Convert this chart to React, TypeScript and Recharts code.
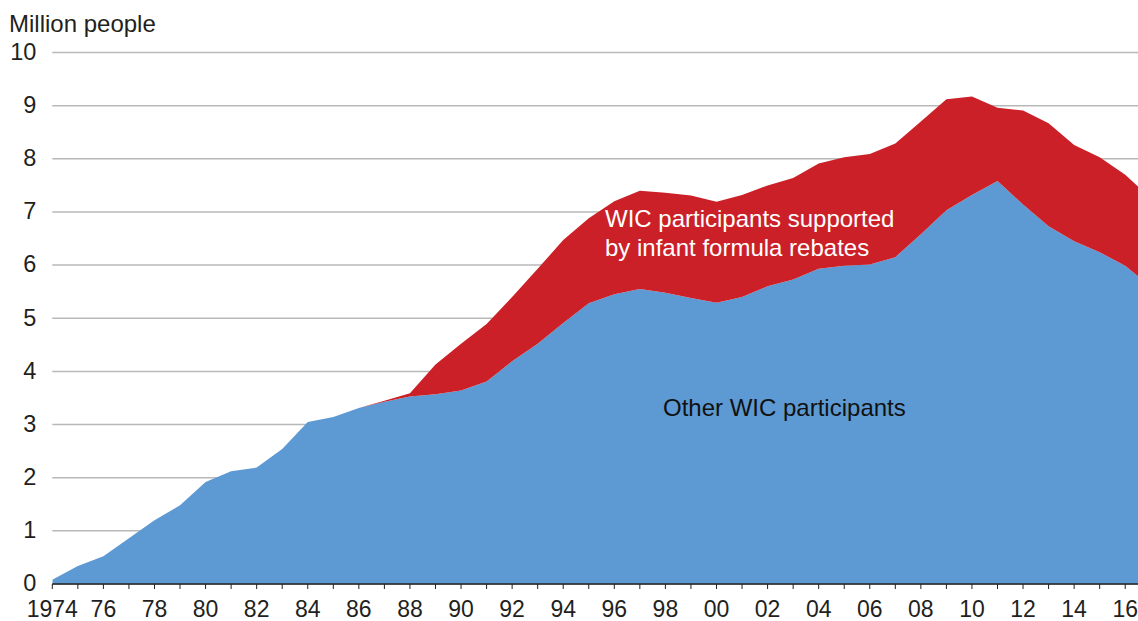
import { AreaChart, Area, XAxis, YAxis, CartesianGrid } from "recharts";

// fiscal years, 1974-2017 (the last point runs past the right edge)
const years = [
  1974, 1975, 1976, 1977, 1978, 1979, 1980, 1981, 1982, 1983, 1984,
  1985, 1986, 1987, 1988, 1989, 1990, 1991, 1992, 1993, 1994, 1995,
  1996, 1997, 1998, 1999, 2000, 2001, 2002, 2003, 2004, 2005, 2006,
  2007, 2008, 2009, 2010, 2011, 2012, 2013, 2014, 2015, 2016, 2017,
];

// million people
const otherWic = [
  0.08, 0.34, 0.52, 0.86, 1.2, 1.48, 1.92, 2.12, 2.19, 2.54, 3.05,
  3.14, 3.31, 3.43, 3.53, 3.57, 3.64, 3.81, 4.19, 4.52, 4.91, 5.28,
  5.45, 5.55, 5.48, 5.38, 5.29, 5.4, 5.6, 5.73, 5.93, 5.99, 6.01,
  6.15, 6.58, 7.03, 7.32, 7.58, 7.14, 6.73, 6.45, 6.24, 5.99, 5.59,
];

const rebateWic = [
  0, 0, 0, 0, 0, 0, 0, 0, 0, 0, 0,
  0, 0, 0.02, 0.06, 0.56, 0.88, 1.08, 1.21, 1.41, 1.56, 1.6,
  1.75, 1.85, 1.88, 1.93, 1.9, 1.92, 1.9, 1.91, 1.98, 2.04, 2.08,
  2.14, 2.12, 2.09, 1.85, 1.38, 1.77, 1.94, 1.81, 1.79, 1.71, 1.67,
];

const xTicks = years.filter((y) => y <= 2016);
const yTicks = [0, 1, 2, 3, 4, 5, 6, 7, 8, 9, 10];

const data = years.map((year, i) => ({
  year,
  other: otherWic[i],
  rebate: rebateWic[i],
}));

const fontFamily = "'Liberation Sans', Arial, Helvetica, sans-serif";
const textColor = "#231f20";

const yearLabel = (v: number) => {
  if (v % 2 !== 0) return "";
  if (v === 1974) return "1974";
  return String(v % 100).padStart(2, "0");
};

// only even years get a label; odd years keep just the tick mark
const YearTick = (props: any) => {
  const { x, y, payload } = props;
  const label = yearLabel(payload.value);
  if (!label) return <g />;
  return (
    <text
      x={x}
      y={y + 27.5}
      textAnchor="middle"
      fill={textColor}
      fontSize={23}
      fontFamily={fontFamily}
    >
      {label}
    </text>
  );
};

function App() {
  return (
    <div
      style={{
        position: "absolute",
        left: 0,
        top: 0,
        width: 1138,
        height: 621,
        fontFamily,
        background: "#fff",
      }}
    >
      <AreaChart
        width={1138}
        height={621}
        data={data}
        margin={{ top: 52.5, right: 0, bottom: 7, left: 0 }}
      >
        <CartesianGrid
          horizontal
          vertical={false}
          stroke="#b8b8b8"
          strokeWidth={1.5}
        />
        <XAxis
          dataKey="year"
          type="number"
          domain={[1974, 2016.5]}
          allowDataOverflow
          ticks={xTicks}
          interval={0}
          height={30}
          axisLine={{ stroke: textColor, strokeWidth: 1.5 }}
          tickLine={{ stroke: textColor, strokeWidth: 1 }}
          tickSize={5}
          tickMargin={0}
          tick={<YearTick />}
        />
        <YAxis
          type="number"
          domain={[0, 10]}
          ticks={yTicks}
          width={52.3}
          axisLine={false}
          tickLine={false}
          tickSize={6}
          tickMargin={10}
          tick={{ fill: textColor, fontSize: 23.5, fontFamily, dy: -1 }}
        />
        <Area
          type="linear"
          dataKey="other"
          stackId="a"
          fill="#5d9ad3"
          fillOpacity={1}
          stroke="none"
          isAnimationActive={false}
        />
        <Area
          type="linear"
          dataKey="rebate"
          stackId="a"
          fill="#cc2028"
          fillOpacity={1}
          stroke="none"
          isAnimationActive={false}
        />
      </AreaChart>

      <div
        style={{
          position: "absolute",
          left: 9,
          top: 10,
          fontSize: 24,
          color: textColor,
          whiteSpace: "nowrap",
        }}
      >
        Million people
      </div>

      <div
        style={{
          position: "absolute",
          left: 605,
          top: 205,
          fontSize: 24,
          lineHeight: "28.5px",
          color: "#fff",
          whiteSpace: "nowrap",
        }}
      >
        WIC participants supported
        <br />
        by infant formula rebates
      </div>

      <div
        style={{
          position: "absolute",
          left: 663,
          top: 394,
          fontSize: 24,
          color: "#111",
          whiteSpace: "nowrap",
        }}
      >
        Other WIC participants
      </div>
    </div>
  );
}

export default App;
